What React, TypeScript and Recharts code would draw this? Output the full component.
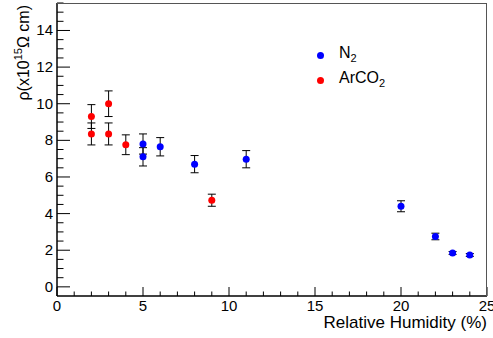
import { ErrorBar, Scatter, ScatterChart, XAxis, YAxis } from 'recharts';

// N2 measurements: humidity (%), resistivity (x10^15 Ohm cm), error
const n2Humidity = [5, 5, 6, 8, 11, 20, 22, 23, 24];
const n2Rho = [7.8, 7.1, 7.65, 6.7, 6.97, 4.4, 2.75, 1.85, 1.74];
const n2Err = [0.55, 0.5, 0.5, 0.47, 0.47, 0.3, 0.18, 0.08, 0.08];

// ArCO2 measurements
const arHumidity = [2, 2, 3, 3, 4, 9];
const arRho = [9.3, 8.35, 10.0, 8.35, 7.76, 4.73];
const arErr = [0.65, 0.6, 0.7, 0.6, 0.54, 0.33];

const xTicks = [0, 1, 2, 3, 4, 5, 6, 7, 8, 9, 10, 11, 12, 13, 14, 15, 16, 17, 18, 19, 20, 21, 22, 23, 24, 25];
const yTicks = [
  0, 0.5, 1, 1.5, 2, 2.5, 3, 3.5, 4, 4.5, 5, 5.5, 6, 6.5, 7, 7.5, 8, 8.5, 9, 9.5, 10, 10.5, 11, 11.5, 12, 12.5,
  13, 13.5, 14, 14.5, 15, 15.5,
];

const PLOT_LEFT = 57;
const PLOT_TOP = 3;
const PLOT_RIGHT = 487;
const PLOT_BOTTOM = 296;
const FONT = 'Liberation Sans, Arial, sans-serif';

const toPoints = (xs: number[], ys: number[], errs: number[]) =>
  xs.map((x, i) => ({ x, y: ys[i], err: errs[i] }));

const n2Data = toPoints(n2Humidity, n2Rho, n2Err);
const arData = toPoints(arHumidity, arRho, arErr);

const XTick = ({ x, payload }: any) => {
  const v = payload.value as number;
  const major = v % 5 === 0;
  return (
    <g>
      <line x1={x} x2={x} y1={PLOT_BOTTOM} y2={PLOT_BOTTOM - (major ? 9 : 4.5)} stroke="#000" />
      {major && (
        <text x={x} y={PLOT_BOTTOM + 15} textAnchor="middle" fontSize={15} fontFamily={FONT} fill="#000">
          {v}
        </text>
      )}
    </g>
  );
};

const YTick = ({ y, payload }: any) => {
  const v = payload.value as number;
  const major = v % 2 === 0;
  return (
    <g>
      <line x1={PLOT_LEFT} x2={PLOT_LEFT + (major ? 13 : 6.5)} y1={y} y2={y} stroke="#000" />
      {major && (
        <text x={PLOT_LEFT - 4} y={y + 5} textAnchor="end" fontSize={15} fontFamily={FONT} fill="#000">
          {v}
        </text>
      )}
    </g>
  );
};

const YTitle = () => (
  <text transform="translate(29, 5) rotate(-90)" textAnchor="end" fontSize={16} fontFamily={FONT} fill="#000">
    ρ(x10
    <tspan fontSize={11} dy={-7}>
      15
    </tspan>
    <tspan dy={7}>Ω cm)</tspan>
  </text>
);

const XTitle = () => (
  <text x={PLOT_RIGHT} y={328} textAnchor="end" fontSize={17} fontFamily={FONT} fill="#000">
    Relative Humidity (%)
  </text>
);

const legendItems = [
  { label: 'N', color: '#0000ff' },
  { label: 'ArCO', color: '#ff0000' },
];

const LegendBox = () => (
  <div
    style={{
      position: 'absolute',
      left: 317,
      top: 43,
      fontFamily: FONT,
      fontSize: 16,
      lineHeight: '20px',
      color: '#000',
    }}
  >
    {legendItems.map((item) => (
      <div key={item.label} style={{ display: 'flex', alignItems: 'center' }}>
        <span style={{ width: 7, height: 7, borderRadius: 4, background: item.color, marginRight: 15 }} />
        <span>
          {item.label}
          <sub style={{ fontSize: 11 }}>2</sub>
        </span>
      </div>
    ))}
  </div>
);

const dot = (color: string) => (p: any) => <circle cx={p.cx} cy={p.cy} r={3.5} fill={color} />;

export default function App() {
  return (
    <div style={{ position: 'absolute', left: 0, top: 0, width: 493, height: 338, background: '#fff' }}>
      <ScatterChart width={493} height={338} margin={{ top: PLOT_TOP, right: 493 - PLOT_RIGHT, bottom: 12, left: 0 }}>
        <XAxis
          type="number"
          dataKey="x"
          domain={[0, 25]}
          ticks={xTicks}
          interval={0}
          tick={<XTick />}
          tickLine={false}
          height={30}
          stroke="#000"
          strokeWidth={1.5}
          allowDataOverflow
          label={<XTitle />}
        />
        <YAxis
          type="number"
          dataKey="y"
          domain={[-0.5, 15.5]}
          ticks={yTicks}
          interval={0}
          tick={<YTick />}
          tickLine={false}
          width={PLOT_LEFT}
          stroke="#000"
          strokeWidth={1.5}
          allowDataOverflow
          label={<YTitle />}
        />
        <Scatter name="N2" data={n2Data} fill="#0000ff" isAnimationActive={false} shape={dot('#0000ff')}>
          <ErrorBar dataKey="err" direction="y" width={4} stroke="#000" strokeWidth={1} />
        </Scatter>
        <Scatter name="ArCO2" data={arData} fill="#ff0000" isAnimationActive={false} shape={dot('#ff0000')}>
          <ErrorBar dataKey="err" direction="y" width={4} stroke="#000" strokeWidth={1} />
        </Scatter>
      </ScatterChart>
      <div
        style={{
          position: 'absolute',
          left: PLOT_LEFT,
          top: PLOT_TOP,
          width: PLOT_RIGHT - PLOT_LEFT,
          height: PLOT_BOTTOM - PLOT_TOP,
          borderTop: '1.5px solid #555',
          borderRight: '1.5px solid #555',
          boxSizing: 'border-box',
          pointerEvents: 'none',
        }}
      />
      <LegendBox />
    </div>
  );
}
